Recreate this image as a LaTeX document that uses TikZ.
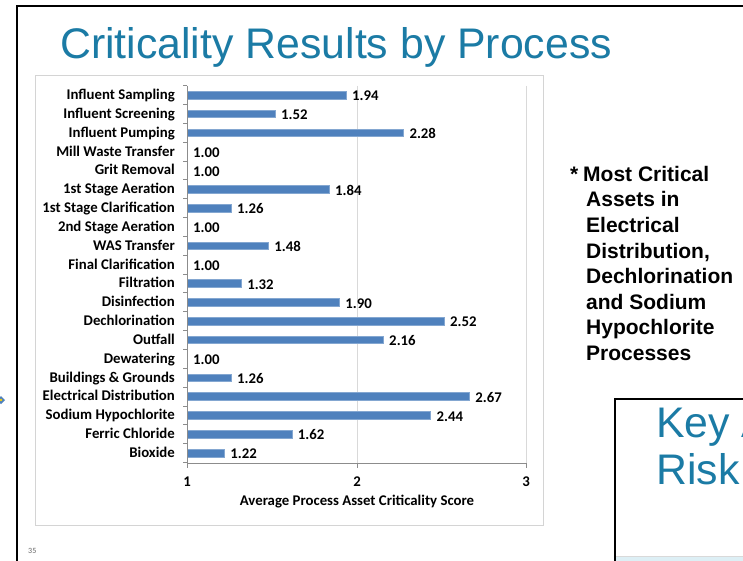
\documentclass[tikz,border=0pt]{standalone}
\usepackage{fontspec}
\setmainfont{Liberation Sans}
\newfontfamily\calfont{Carlito}
\definecolor{titleblue}{HTML}{1B7BA5}
\definecolor{barblue}{HTML}{4F81BD}
\definecolor{framegray}{HTML}{D4D4D4}
\definecolor{gridgray}{HTML}{D9D9D9}
\definecolor{axisgray}{HTML}{8C8C8C}
\definecolor{stripblue}{HTML}{DDEFF5}
\begin{document}
\begin{tikzpicture}[x=1pt,y=-1pt,
  catlabel/.style={anchor=base east,inner sep=0pt,font=\calfont\bfseries\fontsize{14.8}{16}\selectfont},
  vallabel/.style={anchor=base west,inner sep=0pt,font=\calfont\bfseries\fontsize{14.8}{16}\selectfont},
  ticklabel/.style={anchor=center,inner sep=0pt,font=\calfont\bfseries\fontsize{14.8}{16}\selectfont},
  barstyle/.style={fill=barblue,draw=barblue!70!white,line width=0.5pt},
  noteline/.style={anchor=base west,inner sep=0pt,font=\bfseries\fontsize{21}{25}\selectfont},
  bigtitle/.style={anchor=base west,inner sep=0pt,text=titleblue,font=\fontsize{42.8}{50}\selectfont}]
\useasboundingbox (0,0) rectangle (743,561);
\clip (0,0) rectangle (743,561);
\fill[white] (0,0) rectangle (743,561);
% slide frame
\draw[black,line width=2pt] (17,561) -- (17,6) -- (743,6);
% left marker
\fill[barblue] (-3,400) -- (1,396) -- (5,400) -- (1,404) -- cycle;
\fill[yellow!70!orange] (1,400) circle (1.3);
% title
\node[bigtitle] (title) at (60,59) {Criticality Results by Process};
% chart frame
\draw[framegray,line width=1pt] (35,76) rectangle (543,525);
% gridlines
\draw[gridgray,line width=0.8pt] (357,86) -- (357,463);
\draw[gridgray,line width=0.8pt] (526,86) -- (526,463);
% bars and value labels
\foreach \v [count=\i] in {1.94,1.52,2.28,1.00,1.00,1.84,1.26,1.00,1.48,1.00,1.32,1.90,2.52,2.16,1.00,1.26,2.67,2.44,1.62,1.22}{
  \pgfmathsetmacro\yy{95+(\i-1)*18.842}
  \pgfmathsetmacro\xx{187+(\v-1)*169}
  \ifdim\v pt>1pt
    \draw[barstyle] (187,\yy-3.8) rectangle (\xx,\yy+3.8);
  \fi
  \node[vallabel] (val\i) at (\xx+6,\yy+5.8) {\v};
}
% category labels
\foreach \t [count=\i] in {Influent Sampling,Influent Screening,Influent Pumping,Mill Waste Transfer,Grit Removal,1st Stage Aeration,1st Stage Clarification,2nd Stage Aeration,WAS Transfer,Final Clarification,Filtration,Disinfection,Dechlorination,Outfall,Dewatering,Buildings \& Grounds,Electrical Distribution,Sodium Hypochlorite,Ferric Chloride,Bioxide}{
  \pgfmathsetmacro\yy{95+(\i-1)*18.842}
  \node[catlabel] (cat\i) at (175,\yy+4.5) {\t};
}
% axes
\draw[axisgray,line width=0.8pt] (187,85.6) -- (187,463.4) -- (526,463.4);
\foreach \k in {0,...,20}{
  \pgfmathsetmacro\yy{85.6+\k*18.842}
  \draw[axisgray,line width=0.8pt] (183,\yy) -- (187,\yy);
}
\foreach \xv/\lab in {187/1,357/2,526/3}{
  \draw[axisgray,line width=0.8pt] (\xv,463.4) -- (\xv,467.5);
  \node[ticklabel] (tick\lab) at (\xv,482) {\lab};
}
\node[ticklabel] (axtitle) at (357,502) {Average Process Asset Criticality Score};
% note text
\node[noteline] (n1) at (583,181.5) {\llap{*\hspace{5pt}}Most Critical};
\node[noteline] (n2) at (586,207) {Assets in};
\node[noteline] (n3) at (586,232.5) {Electrical};
\node[noteline] (n4) at (586,258) {Distribution,};
\node[noteline] (n5) at (586,283.5) {Dechlorination};
\node[noteline] (n6) at (586,309) {and Sodium};
\node[noteline] (n7) at (586,334.5) {Hypochlorite};
\node[noteline] (n8) at (586,360) {Processes};
% bottom-right slide
\fill[stripblue] (615,556) rectangle (743,561);
\draw[gridgray,line width=0.6pt] (615,556) -- (743,556);
\draw[black,line width=1.6pt] (615,561) -- (615,399) -- (743,399);
\node[bigtitle] (key) at (656,437) {Key A};
\node[bigtitle] (risk) at (656,484) {Risk};
% page number
\node[anchor=base west,inner sep=0pt,text=gray!80!black,font=\calfont\fontsize{8}{9}\selectfont] (pnum) at (28,553) {35};
\end{tikzpicture}
\end{document}
